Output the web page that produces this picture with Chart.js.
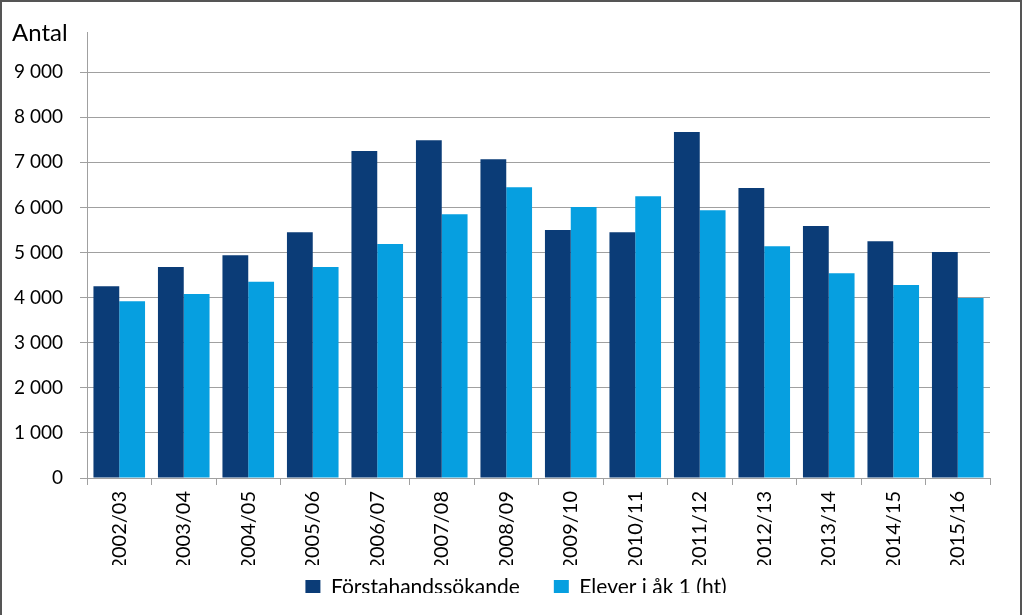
<!DOCTYPE html>
<html>
<head>
<meta charset="utf-8">
<script src="https://cdn.jsdelivr.net/npm/chart.js@4"></script>
<style>
  html, body { margin: 0; padding: 0; background: #fff; }
  #wrap {
    position: relative;
    width: 1018px;
    height: 613px;
    border-left: 2px solid #555;
    border-top: 2px solid #555;
    border-right: 2px solid #555;
  }
</style>
</head>
<body>
<div id="wrap"><canvas id="chart"></canvas></div>
<script>
// Läsår
const years = ['2002/03', '2003/04', '2004/05', '2005/06', '2006/07', '2007/08', '2008/09',
               '2009/10', '2010/11', '2011/12', '2012/13', '2013/14', '2014/15', '2015/16'];

// Förstahandssökande
const firstChoice = [4250, 4680, 4940, 5450, 7250, 7490, 7070, 5500, 5450, 7670, 6430, 5590, 5250, 5010];

// Elever i åk 1 (ht)
const pupils = [3920, 4080, 4350, 4680, 5190, 5850, 6450, 6010, 6250, 5940, 5140, 4540, 4280, 3990];

// y-axelns skalsteg
const yTicks = [0, 1000, 2000, 3000, 4000, 5000, 6000, 7000, 8000, 9000];
const yTickLabels = ['0', '1 000', '2 000', '3 000', '4 000', '5 000', '6 000', '7 000', '8 000', '9 000'];

const font = "Lato, 'Open Sans', sans-serif";
const gridGray = '#a0a0a0';

// "Antal" above the y axis
const axisLabel = {
    id: 'axisLabel',
    afterDraw(chart) {
        const ctx = chart.ctx;
        ctx.save();
        ctx.font = '24px ' + font;
        ctx.fillStyle = '#000';
        ctx.textAlign = 'left';
        ctx.textBaseline = 'middle';
        ctx.fillText('Antal', 10, chart.chartArea.top + 1);
        ctx.restore();
    }
};

// legend: wide gaps between items but a short box, sitting just under the labels
const legendFit = {
    id: 'legendFit',
    beforeInit(chart) {
        const lg = chart.legend;
        const fit = lg.fit.bind(lg);
        lg.fit = function () {
            fit();
            this.height = 50;
        };
    },
    afterLayout(chart) {
        const lg = chart.legend;
        lg.top -= 22;
        lg.bottom -= 22;
        lg.left += 20;
        lg.right += 20;
    }
};

const ctx = document.getElementById('chart').getContext('2d');
new Chart(ctx, {
    type: 'bar',
    data: {
        labels: years,
        datasets: [{
            label: 'Förstahandssökande',
            data: firstChoice,
            backgroundColor: '#0b3c77'
        }, {
            label: 'Elever i åk 1 (ht)',
            data: pupils,
            backgroundColor: '#069fe0'
        }]
    },
    options: {
        responsive: true,
        maintainAspectRatio: false,
        animation: false,
        categoryPercentage: 0.8,
        barPercentage: 1.0,
        layout: { padding: { top: 30, right: 30, bottom: 0, left: 0 } },
        plugins: {
            legend: {
                position: 'bottom',
                labels: {
                    font: { family: font, size: 21 },
                    color: '#000',
                    boxWidth: 15,
                    boxHeight: 15,
                    padding: 34
                }
            },
            tooltip: { enabled: false }
        },
        scales: {
            x: {
                afterFit: scale => { scale.height = 87; },
                grid: {
                    display: true,
                    drawOnChartArea: false,
                    offset: true,
                    tickLength: 7,
                    color: gridGray
                },
                border: { color: gridGray },
                ticks: {
                    font: { family: font, size: 20 },
                    color: '#000',
                    maxRotation: 90,
                    minRotation: 90,
                    padding: 6
                }
            },
            y: {
                min: 0,
                max: 9890,
                afterFit: scale => { scale.width = 85; },
                afterBuildTicks: axis => {
                    axis.ticks = yTicks.map(v => ({ value: v }));
                },
                grid: {
                    color: gridGray,
                    tickLength: 7
                },
                border: { color: gridGray },
                ticks: {
                    autoSkip: false,
                    font: { family: font, size: 19 },
                    color: '#000',
                    padding: 17,
                    callback: (v, i) => yTickLabels[i]
                }
            }
        }
    },
    plugins: [axisLabel, legendFit]
});
</script>
</body>
</html>
